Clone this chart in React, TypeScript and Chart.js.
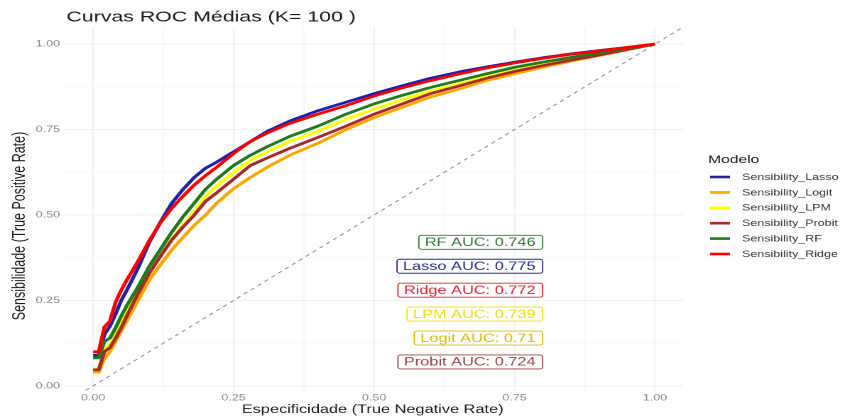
import React, { useEffect, useRef } from 'react';
import { Chart, registerables } from 'chart.js';

Chart.register(...registerables);

// ---------- data ----------
const FPR = [0, 0.01, 0.02, 0.03, 0.04, 0.05, 0.06, 0.08, 0.10, 0.12, 0.14, 0.16, 0.18, 0.20, 0.22, 0.25, 0.28, 0.31, 0.35, 0.40, 0.45, 0.50, 0.55, 0.60, 0.65, 0.70, 0.75, 0.80, 0.85, 0.90, 0.95, 1.0];

const SENS_LASSO = [0.09, 0.09, 0.15, 0.175, 0.21, 0.25, 0.28, 0.345, 0.42, 0.48, 0.535, 0.575, 0.61, 0.637, 0.655, 0.685, 0.715, 0.745, 0.775, 0.805, 0.83, 0.855, 0.878, 0.9, 0.918, 0.933, 0.947, 0.96, 0.971, 0.981, 0.99, 1.0];
const SENS_LOGIT = [0.04, 0.04, 0.08, 0.10, 0.13, 0.16, 0.19, 0.25, 0.31, 0.355, 0.398, 0.435, 0.47, 0.50, 0.535, 0.577, 0.61, 0.64, 0.675, 0.71, 0.75, 0.785, 0.815, 0.845, 0.868, 0.893, 0.913, 0.932, 0.95, 0.966, 0.983, 1.0];
const SENS_LPM = [0.05, 0.05, 0.11, 0.12, 0.15, 0.19, 0.22, 0.275, 0.33, 0.38, 0.43, 0.47, 0.51, 0.555, 0.585, 0.625, 0.66, 0.685, 0.715, 0.745, 0.78, 0.81, 0.837, 0.862, 0.883, 0.905, 0.925, 0.941, 0.956, 0.971, 0.985, 1.0];
const SENS_PROBIT = [0.047, 0.047, 0.10, 0.112, 0.14, 0.17, 0.205, 0.27, 0.33, 0.38, 0.427, 0.465, 0.50, 0.54, 0.565, 0.605, 0.645, 0.667, 0.695, 0.727, 0.76, 0.795, 0.825, 0.855, 0.877, 0.9, 0.92, 0.937, 0.953, 0.968, 0.984, 1.0];
const SENS_RF = [0.082, 0.082, 0.13, 0.14, 0.17, 0.205, 0.235, 0.29, 0.35, 0.40, 0.45, 0.495, 0.535, 0.575, 0.605, 0.645, 0.675, 0.70, 0.73, 0.76, 0.795, 0.825, 0.85, 0.873, 0.893, 0.913, 0.932, 0.947, 0.961, 0.975, 0.988, 1.0];
const SENS_RIDGE = [0.10, 0.10, 0.172, 0.19, 0.245, 0.28, 0.31, 0.365, 0.425, 0.478, 0.52, 0.555, 0.588, 0.615, 0.64, 0.68, 0.715, 0.74, 0.768, 0.795, 0.82, 0.848, 0.872, 0.893, 0.912, 0.93, 0.945, 0.958, 0.97, 0.98, 0.99, 1.0];

const MODEL_NAMES = ['Sensibility_Lasso', 'Sensibility_Logit', 'Sensibility_LPM', 'Sensibility_Probit', 'Sensibility_RF', 'Sensibility_Ridge'];
const MODEL_SERIES = [SENS_LASSO, SENS_LOGIT, SENS_LPM, SENS_PROBIT, SENS_RF, SENS_RIDGE];
const MODEL_COLORS = ['#2020A8', '#FFA500', '#FFFF00', '#A52A2A', '#1E7B1E', '#FF0000'];

const AUC_TEXTS = ['RF AUC: 0.746', 'Lasso AUC: 0.775', 'Ridge AUC: 0.772', 'LPM AUC: 0.739', 'Logit AUC: 0.71', 'Probit AUC: 0.724'];
const AUC_COLORS = ['#2E7D2E', '#2A2A9A', '#F01E2E', '#F2E200', '#E0BC00', '#9E4646'];

const DIAG_RANGE = [-0.05, 1.05];

const TITLE = 'Curvas ROC Médias (K= 100 )';
const X_TITLE = 'Especificidade (True Negative Rate)';
const Y_TITLE = 'Sensibilidade (True Positive Rate)';
const LEGEND_TITLE = 'Modelo';

// ---------- layout ----------
const LOGICAL_W = 595;
const LOGICAL_H = 419;
const FONT = '"Liberation Sans", Arial, sans-serif';

const isMajor = (v: number) => Math.abs(v * 4 - Math.round(v * 4)) < 1e-6;

const overlayPlugin = {
  id: 'overlay',
  afterDraw(chart: any) {
    const { ctx, chartArea, scales } = chart;
    const xs = scales.x;
    const ys = scales.y;
    ctx.save();

    // title
    ctx.fillStyle = '#1a1a1a';
    ctx.font = `15px ${FONT}`;
    ctx.textAlign = 'left';
    ctx.textBaseline = 'middle';
    ctx.fillText(TITLE, chartArea.left + 1, 17.5);

    // x title
    ctx.font = `11.5px ${FONT}`;
    ctx.textAlign = 'center';
    ctx.fillText(X_TITLE, (chartArea.left + chartArea.right) / 2 - 1, 410);

    // y title
    ctx.save();
    ctx.translate(14, 226);
    ctx.rotate(-Math.PI / 2);
    ctx.font = `12.5px ${FONT}`;
    ctx.textAlign = 'center';
    ctx.textBaseline = 'middle';
    ctx.fillText(Y_TITLE, 0, 0);
    ctx.restore();

    // legend
    ctx.textAlign = 'left';
    ctx.textBaseline = 'middle';
    ctx.font = `11px ${FONT}`;
    ctx.fillStyle = '#1a1a1a';
    ctx.fillText(LEGEND_TITLE, 498.6, 160);
    ctx.font = `8.8px ${FONT}`;
    MODEL_NAMES.forEach((name, i) => {
      const cy = 177 + i * 15.4;
      ctx.strokeStyle = MODEL_COLORS[i];
      ctx.lineWidth = 2.6;
      ctx.beginPath();
      ctx.moveTo(500, cy);
      ctx.lineTo(514, cy);
      ctx.stroke();
      ctx.fillStyle = '#333';
      ctx.fillText(name, 522.5, cy + 0.5);
    });

    // AUC labels (right-aligned boxes)
    ctx.font = `11.5px ${FONT}`;
    const rightX = xs.getPixelForValue(0.8);
    AUC_TEXTS.forEach((t, i) => {
      const cy = ys.getPixelForValue(0.42 - 0.07 * i);
      const w = ctx.measureText(t).width;
      const bw = w + 9.2;
      const bh = 14;
      const x0 = rightX - bw;
      const y0 = cy - bh / 2;
      ctx.beginPath();
      (ctx as any).roundRect(x0, y0, bw, bh, 2);
      ctx.fillStyle = '#ffffff';
      ctx.fill();
      ctx.strokeStyle = AUC_COLORS[i];
      ctx.lineWidth = 0.9;
      ctx.stroke();
      ctx.fillStyle = AUC_COLORS[i];
      ctx.textAlign = 'left';
      ctx.textBaseline = 'middle';
      ctx.fillText(t, x0 + 4.2, cy + 0.6);
    });

    ctx.restore();
  },
};

export default function App() {
  const ref = useRef<HTMLCanvasElement>(null);

  useEffect(() => {
    if (!ref.current) return;
    // draw order: first dataset ends up on top in Chart.js
    const order = [5, 4, 3, 2, 1, 0];
    const datasets: any[] = order.map((k) => ({
      label: MODEL_NAMES[k],
      data: FPR.map((x, j) => ({ x, y: MODEL_SERIES[k][j] })),
      borderColor: MODEL_COLORS[k],
      backgroundColor: MODEL_COLORS[k],
      borderWidth: 2.7,
      pointRadius: 0,
      tension: 0,
      fill: false,
      borderJoinStyle: 'round',
    }));
    datasets.push({
      label: 'diag',
      data: DIAG_RANGE.map((v) => ({ x: v, y: v })),
      borderColor: '#8c8c8c',
      borderWidth: 0.9,
      borderDash: [3.2, 3.2],
      pointRadius: 0,
      fill: false,
    });

    const tickFont = { family: FONT, size: 8.8 };
    const gridColor = (c: any) => (c.tick && isMajor(c.tick.value) ? '#efefef' : '#f7f7f7');

    const chart = new Chart(ref.current, {
      type: 'line',
      data: { datasets },
      options: {
        responsive: false,
        animation: false,
        devicePixelRatio: 2,
        layout: { padding: { top: 27, right: 114, bottom: 0, left: 0 } },
        plugins: {
          legend: { display: false },
          title: { display: false },
          tooltip: { enabled: false },
        },
        scales: {
          x: {
            type: 'linear',
            min: -0.05,
            max: 1.05,
            afterFit: (s: any) => {
              s.height = 28;
            },
            border: { display: false },
            grid: { drawTicks: false, color: gridColor, lineWidth: 0.9 },
            ticks: {
              stepSize: 0.125,
              includeBounds: false,
              autoSkip: false,
              maxRotation: 0,
              padding: 2,
              color: '#8a8a8a',
              font: tickFont,
              callback: (v: any) => (isMajor(Number(v)) ? Number(v).toFixed(2) : ''),
            },
          },
          y: {
            type: 'linear',
            min: -0.015,
            max: 1.05,
            afterFit: (s: any) => {
              s.width = 45.8;
            },
            border: { display: false },
            grid: { drawTicks: false, color: gridColor, lineWidth: 0.9 },
            ticks: {
              stepSize: 0.125,
              includeBounds: false,
              autoSkip: false,
              padding: 3.5,
              color: '#8a8a8a',
              font: tickFont,
              callback: (v: any) => (isMajor(Number(v)) ? Number(v).toFixed(2) : ''),
            },
          },
        },
      } as any,
      plugins: [overlayPlugin],
    });
    return () => chart.destroy();
  }, []);

  return (
    <div style={{ position: 'fixed', left: 0, top: 0, width: 845, height: 419, background: '#ffffff', overflow: 'hidden' }}>
      <canvas
        ref={ref}
        width={LOGICAL_W}
        height={LOGICAL_H}
        style={{ width: '845px', height: '419px', display: 'block' }}
      />
    </div>
  );
}
